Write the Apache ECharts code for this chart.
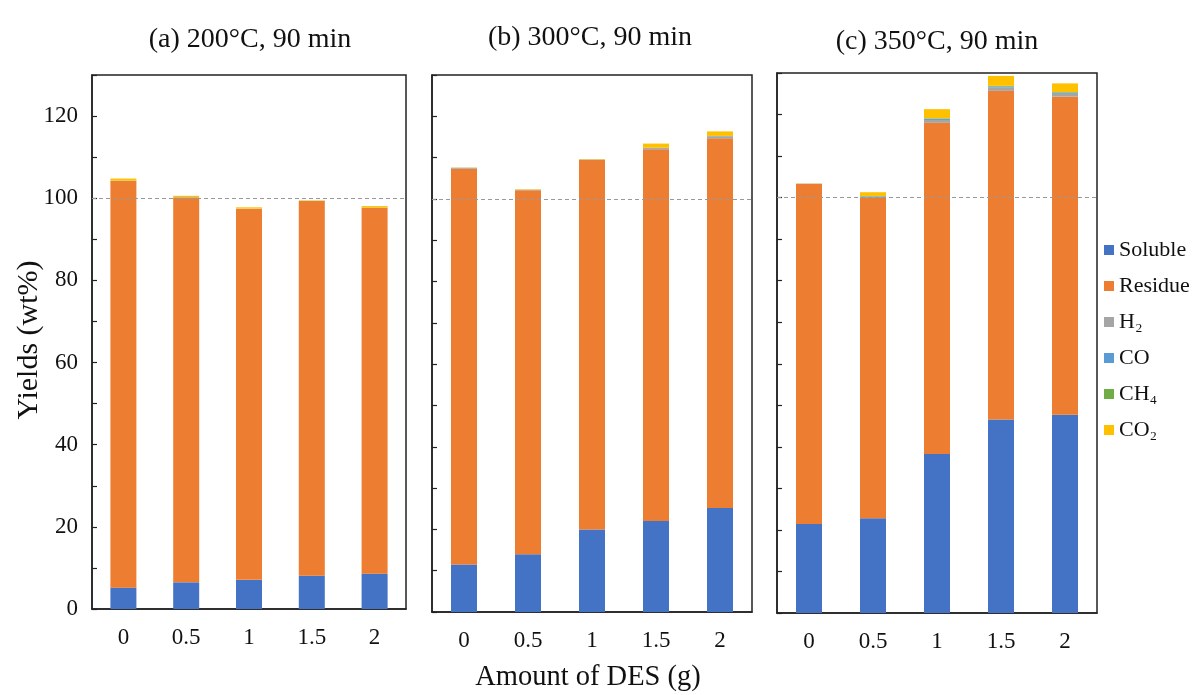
<!DOCTYPE html>
<html>
<head>
<meta charset="utf-8">
<script src="https://cdn.jsdelivr.net/npm/echarts@6/dist/echarts.min.js"></script>
<style>html,body{margin:0;padding:0;background:#fff}#c{width:1194px;height:695px}</style>
</head>
<body>
<div id="c"></div>
<script>
const categories = ['0', '0.5', '1', '1.5', '2'];
const panelTitles = ['(a) 200°C, 90 min', '(b) 300°C, 90 min', '(c) 350°C, 90 min'];
const seriesNames = ['Soluble', 'Residue', 'H₂', 'CO', 'CH₄', 'CO₂'];
const colors = ['#4472C4', '#ED7D31', '#A5A5A5', '#5B9BD5', '#70AD47', '#FFC000'];

// Panel (a) 200°C
const solubleA = [5.2, 6.5, 7.1, 8.1, 8.6];
const residueA = [99.0, 93.7, 90.3, 91.2, 89.0];
const h2A = [0.05, 0.05, 0.05, 0.05, 0.05];
const coA = [0.02, 0.02, 0.02, 0.02, 0.02];
const ch4A = [0.02, 0.02, 0.02, 0.02, 0.02];
const co2A = [0.5, 0.3, 0.3, 0.1, 0.4];

// Panel (b) 300°C
const solubleB = [11.5, 14.0, 20.0, 22.0, 25.2];
const residueB = [95.8, 88.1, 89.4, 90.0, 89.5];
const h2B = [0.2, 0.1, 0.1, 0.3, 0.4];
const coB = [0.03, 0.03, 0.03, 0.05, 0.1];
const ch4B = [0.02, 0.02, 0.02, 0.05, 0.05];
const co2B = [0.05, 0.1, 0.1, 1.0, 1.1];

// Panel (c) 350°C
const solubleC = [21.4, 22.8, 38.3, 46.6, 47.7];
const residueC = [81.9, 77.1, 79.7, 79.1, 76.6];
const h2C = [0.05, 0.3, 0.7, 0.8, 0.7];
const coC = [0.02, 0.1, 0.3, 0.25, 0.25];
const ch4C = [0.02, 0.1, 0.1, 0.15, 0.15];
const co2C = [0.05, 0.9, 2.2, 2.4, 2.1];

const panelData = [
  [solubleA, residueA, h2A, coA, ch4A, co2A],
  [solubleB, residueB, h2B, coB, ch4B, co2B],
  [solubleC, residueC, h2C, coC, ch4C, co2C]
];

const FONT = 'Liberation Serif';
const grids = [
  {left: 92, top: 75, width: 314, height: 534},
  {left: 432, top: 75, width: 320, height: 537},
  {left: 777, top: 73, width: 320, height: 540}
];

const chart = echarts.init(document.getElementById('c'));
const xAxes = [], yAxes = [], series = [];
grids.forEach((g, i) => {
  xAxes.push({
    type: 'category', gridIndex: i, data: categories,
    axisLine: {show: true, lineStyle: {color: '#222', width: 1.5}},
    axisTick: {show: false},
    axisLabel: {fontFamily: FONT, fontSize: 23, color: '#111', margin: 17}
  });
  yAxes.push({
    type: 'value', gridIndex: i, min: 0, max: 130, interval: 10,
    splitLine: {show: false},
    axisLine: {show: true, lineStyle: {color: '#222', width: 1.5}},
    axisTick: {show: true, inside: true, length: 5, lineStyle: {color: '#222', width: 1.2}},
    axisLabel: {
      show: i === 0, fontFamily: FONT, fontSize: 23, color: '#111', margin: 14,
      formatter: v => (v % 20 === 0 ? String(v) : '')
    }
  });
  panelData[i].forEach((vals, k) => {
    const s = {
      name: seriesNames[k], type: 'bar', stack: 'p' + i,
      xAxisIndex: i, yAxisIndex: i, data: vals, barWidth: 26,
      itemStyle: {color: colors[k]}
    };
    if (k === 0) {
      s.markLine = {
        silent: true, symbol: 'none', label: {show: false},
        lineStyle: {color: '#999', type: [4, 3], width: 1},
        data: [{yAxis: 100}]
      };
    }
    series.push(s);
  });
});

const graphics = [
  {type: 'text', x: 250, y: 40, style: {text: panelTitles[0], font: '28px "Liberation Serif"', fill: '#111', textAlign: 'center', textVerticalAlign: 'middle'}},
  {type: 'text', x: 590, y: 38, style: {text: panelTitles[1], font: '28px "Liberation Serif"', fill: '#111', textAlign: 'center', textVerticalAlign: 'middle'}},
  {type: 'text', x: 937, y: 42, style: {text: panelTitles[2], font: '28px "Liberation Serif"', fill: '#111', textAlign: 'center', textVerticalAlign: 'middle'}},
  {type: 'text', x: 588, y: 678, style: {text: 'Amount of DES (g)', font: '28.5px "Liberation Serif"', fill: '#111', textAlign: 'center', textVerticalAlign: 'middle'}},
  {type: 'text', x: 29, y: 340, rotation: Math.PI / 2, style: {text: 'Yields (wt%)', font: '30px "Liberation Serif"', fill: '#111', textAlign: 'center', textVerticalAlign: 'middle'}}
];

chart.setOption({
  animation: false,
  backgroundColor: '#fff',
  grid: grids.map(g => Object.assign({show: true, borderColor: '#222', borderWidth: 1.5, backgroundColor: 'transparent'}, g)),
  xAxis: xAxes,
  yAxis: yAxes,
  legend: {
    orient: 'vertical', left: 1099, top: 234,
    data: seriesNames, icon: 'rect', itemWidth: 10, itemHeight: 10, itemGap: 14,
    textStyle: {fontFamily: FONT, fontSize: 22, color: '#111', lineHeight: 22}
  },
  graphic: graphics,
  series: series
});
</script>
</body>
</html>
